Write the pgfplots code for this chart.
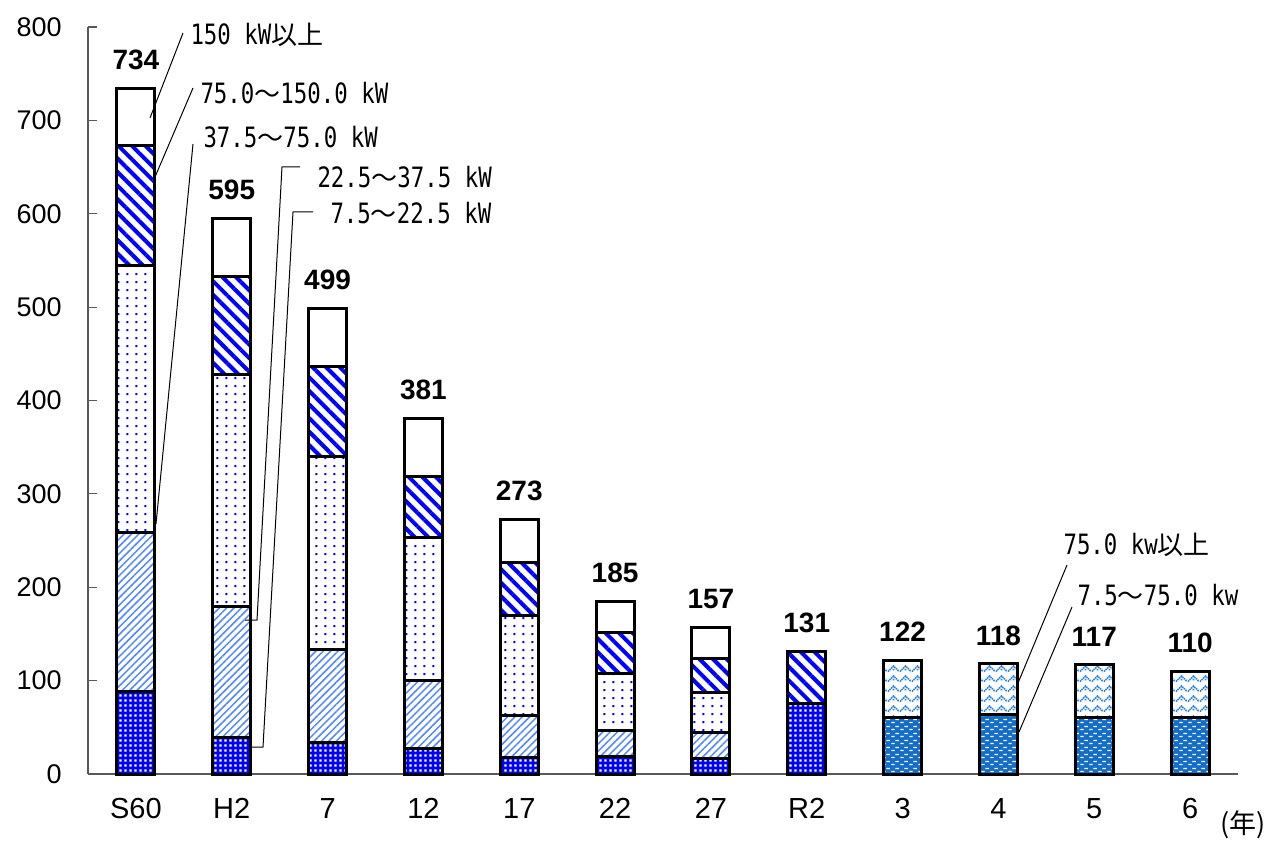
\documentclass[border=0pt]{standalone}
\usepackage{pgfplots}
\pgfplotsset{compat=1.18}
\usepackage{pgfplotstable}
\usepackage{fontspec}
\setmainfont{Liberation Sans}
\newfontfamily\jp{Noto Sans CJK JP}
\newfontfamily\mono[FakeStretch=0.8]{DejaVu Sans Mono}
\usetikzlibrary{patterns,patterns.meta}

\definecolor{pblue}{RGB}{0,0,255}
\definecolor{lblue}{RGB}{80,135,255}
\definecolor{mblue}{RGB}{20,110,200}
\definecolor{maze}{RGB}{45,130,215}

% white squares on blue
\pgfdeclarepatternformonly{densedots}{\pgfqpoint{0pt}{0pt}}{\pgfqpoint{2.7pt}{2.7pt}}{\pgfqpoint{2.7pt}{2.7pt}}{%
  \pgfpathrectangle{\pgfqpoint{0.7pt}{0.7pt}}{\pgfqpoint{1.3pt}{1.3pt}}\pgfusepath{fill}}
% sparse dots
\pgfdeclarepatternformonly{sparsedots}{\pgfqpoint{0pt}{0pt}}{\pgfqpoint{4.4pt}{4.2pt}}{\pgfqpoint{4.4pt}{4.2pt}}{%
  \pgfpathrectangle{\pgfqpoint{1.7pt}{1.6pt}}{\pgfqpoint{1pt}{1pt}}\pgfusepath{fill}}
% short dashes, staggered
\pgfdeclarepatternformonly{dashes}{\pgfqpoint{0pt}{0pt}}{\pgfqpoint{4.5pt}{3.5pt}}{\pgfqpoint{4.5pt}{3.5pt}}{%
  \pgfpathrectangle{\pgfqpoint{0.15pt}{0.5pt}}{\pgfqpoint{1.9pt}{0.65pt}}%
  \pgfpathrectangle{\pgfqpoint{2.4pt}{2.25pt}}{\pgfqpoint{1.9pt}{0.65pt}}%
  \pgfusepath{fill}}
% zigzag maze
\pgfdeclarepatternformonly{maze}{\pgfqpoint{0pt}{0pt}}{\pgfqpoint{6pt}{5pt}}{\pgfqpoint{6pt}{5pt}}{%
  \pgfsetlinewidth{0.9pt}%
  \pgfsetdash{{0.8pt}{0.4pt}}{0pt}%
  \pgfpathmoveto{\pgfqpoint{0pt}{0.8pt}}\pgfpathlineto{\pgfqpoint{3pt}{3.8pt}}\pgfpathlineto{\pgfqpoint{6pt}{0.8pt}}%
  \pgfpathmoveto{\pgfqpoint{3pt}{1.4pt}}\pgfpathlineto{\pgfqpoint{3pt}{2.4pt}}%
  \pgfusepath{stroke}}

% a: 7.5-22.5, b: 22.5-37.5, c: 37.5-75, d: 75-150, e: 150+, f: 7.5-75 (new), g: 75+ (new)
\pgfplotstableread{
x a b c d e f g tot
0 88 171 286 128 61 0 0 734
1 39 140 249 105 62 0 0 595
2 34 99 207 96 63 0 0 499
3 27 73 153 66 62 0 0 381
4 18 45 107 56 47 0 0 273
5 19 28 61 44 33 0 0 185
6 17 27 43 37 33 0 0 157
7 75 0 0 56 0 0 0 131
8 0 0 0 0 0 61 61 122
9 0 0 0 0 0 64 54 118
10 0 0 0 0 0 61 56 117
11 0 0 0 0 0 60 50 110
}\data

\pgfplotsset{frame/.style={
    at={(44pt,34pt)}, anchor=south west,
    scale only axis, width=575pt, height=373.5pt,
    xmin=-0.5, xmax=11.5, ymin=0, ymax=800,
    clip=false,
    /pgf/number format/assume math mode=true}}

\begin{document}
\begin{tikzpicture}
\path[use as bounding box] (0,0) rectangle (638.5pt,421pt);
\begin{axis}[frame,
    ybar stacked, bar width=19pt,
    xtick={0,...,11},
    xticklabels={S60,H2,7,12,17,22,27,R2,3,4,5,6},
    ytick={0,100,...,800},
    axis x line*=bottom, axis y line*=left,
    axis line style={draw=black!65, line width=0.6pt},
    x tick style={draw=none},
    y tick style={draw=black!65, line width=0.6pt},
    tick align=inside, major tick length=4.5pt,
    yticklabel style={font=\fontsize{13.5}{14}\selectfont, inner sep=0pt, xshift=-13pt},
    xticklabel style={font=\fontsize{14.5}{15}\selectfont, inner sep=0pt, yshift=-12pt},
    every axis plot/.append style={draw=black, line width=1.5pt},
]
\addplot[pattern=densedots, pattern color=white, preaction={fill=pblue}] table[x=x,y=a]{\data};
\addplot[pattern={Lines[angle=45,distance=2.6pt,line width=0.75pt]}, pattern color=lblue, preaction={fill=white}] table[x=x,y=b]{\data};
\addplot[pattern=sparsedots, pattern color=pblue, preaction={fill=white}] table[x=x,y=c]{\data};
\addplot[pattern={Lines[angle=-45,distance=4.8pt,line width=2pt]}, pattern color=pblue, preaction={fill=white}] table[x=x,y=d]{\data};
\addplot[fill=white] table[x=x,y=e]{\data};
\addplot[pattern=dashes, pattern color=white, preaction={fill=mblue}] table[x=x,y=f]{\data};
\addplot[pattern=maze, pattern color=maze, preaction={fill=white}] table[x=x,y=g]{\data};
\end{axis}
% bar totals
\begin{axis}[frame, hide axis]
\addplot[draw=none, mark=none, nodes near coords, point meta=explicit,
    nodes near coords style={font=\bfseries\fontsize{14}{15}\selectfont,
        anchor=south, inner sep=0pt, yshift=9pt, text=black}]
    table[x=x,y=tot,meta=tot]{\data};
\end{axis}
\begin{scope}[x=0.5pt,y=-0.5pt,yshift=421pt,line width=0.5pt]
\draw (150,118) -- (183,33);
\draw (155,177) -- (193,88);
\draw (156,524) -- (193,144);
\draw (245,620) -- (257,620) -- (282,167) -- (300,167);
\draw (252,747) -- (263,747) -- (293,212) -- (313,212);
\draw (1018,683) -- (1067,565);
\draw (1019,732) -- (1072,607);
\tikzset{lab/.style={anchor=west, inner sep=0pt, font=\fontsize{14}{15}\selectfont}}
\newcommand{\wv}{{\jp\fontsize{13}{14}\selectfont ～}}
\node[lab] at (190,35) {\mono 150 kW{\jp\fontsize{13}{14}\selectfont 以上}};
\node[lab] at (200,93) {\mono 75.0\wv 150.0 kW};
\node[lab] at (203,137) {\mono 37.5\wv 75.0 kW};
\node[lab] at (317,177) {\mono 22.5\wv 37.5 kW};
\node[lab] at (330,213) {\mono 7.5\wv 22.5 kW};
\node[lab] at (1063,545) {\mono 75.0 kw{\jp\fontsize{13}{14}\selectfont 以上}};
\node[lab] at (1077,595) {\mono 7.5\wv 75.0 kw};
\node[inner sep=0pt, font=\jp\fontsize{13.5}{14}\selectfont] at (1243,825) {(年)};
\end{scope}
\end{tikzpicture}
\end{document}
